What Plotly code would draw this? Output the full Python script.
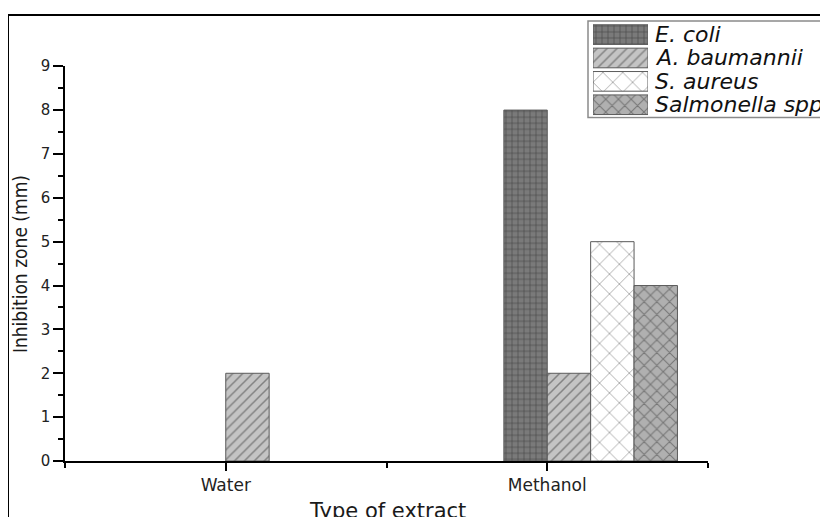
import plotly.graph_objects as go

# ---- data ----
categories = ["Water", "Methanol"]
series_names = ["E. coli", "A. baumannii", "S. aureus", "Salmonella spp."]
e_coli = [0, 8]
a_baumannii = [2, 2]
s_aureus = [0, 5]
salmonella = [0, 4]
series_values = [e_coli, a_baumannii, s_aureus, salmonella]
y_ticks = [0, 1, 2, 3, 4, 5, 6, 7, 8, 9]

# ---- layout geometry (target screen pixels; page body has an 8px margin) ----
W, H = 828, 517
OFF = 8
X0, X1 = 65, 708      # plot area left / right on screen
Y0, Y1 = 461, 60      # y=0 and y=9 on screen
ML = X0 - OFF
MT = 2
MB = H - (Y0 - OFF)
MR = 0
PW, PH = W - ML - MR, H - MT - MB


def px(x):
    return (x - OFF - ML) / PW


def py(y):
    return (H - MB - (y - OFF)) / PH


styles = [
    dict(bg="#7a7a7a", fg="#262626", shape="+", size=6, sol=0.25),
    dict(bg="#c4c4c4", fg="#404040", shape="/", size=7, sol=0.22),
    dict(bg="#ffffff", fg="#4a4a4a", shape="x", size=14, sol=0.12),
    dict(bg="#b0b0b0", fg="#3c3c3c", shape="x", size=9, sol=0.22),
]
bar_w = 0.135
offsets = [-bar_w, 0, bar_w, 2 * bar_w]
font_main = "DejaVu Sans, Liberation Sans, Arial, sans-serif"

fig = go.Figure()
xs = list(range(len(categories)))
for i, (name, vals) in enumerate(zip(series_names, series_values)):
    s = styles[i]
    pat = dict(shape=s["shape"], fgcolor=s["fg"], bgcolor=s["bg"],
               size=s["size"], solidity=s["sol"], fillmode="overlay")
    fig.add_trace(go.Bar(
        x=xs, y=[v if v else None for v in vals], name=name,
        width=bar_w, offset=offsets[i],
        marker=dict(color=s["bg"], line=dict(color="#5a5a5a", width=1), pattern=pat),
        showlegend=False, xaxis="x", yaxis="y",
    ))
    # legend swatch
    fig.add_trace(go.Bar(
        x=[1], y=[i], orientation="h", width=0.84, name=name,
        marker=dict(color=s["bg"], line=dict(color="#5a5a5a", width=1), pattern=pat),
        showlegend=False, xaxis="x2", yaxis="y2", hoverinfo="skip",
    ))

fig.update_layout(
    width=W, height=H,
    margin=dict(l=ML, r=MR, t=MT, b=MB, pad=0),
    plot_bgcolor="white", paper_bgcolor="white",
    barmode="overlay",
    font=dict(family=font_main, color="#222222"),
    xaxis=dict(
        domain=[0, px(X1)], range=[-0.5, 1.5],
        tickmode="array", tickvals=xs, ticktext=categories,
        ticks="outside", ticklen=8, tickwidth=1.5, tickcolor="black",
        minor=dict(tickmode="array", tickvals=[-0.5, 0.5, 1.5], ticks="outside",
                   ticklen=5, tickwidth=1.5, tickcolor="black"),
        showline=True, linecolor="black", linewidth=1.5,
        showgrid=False, zeroline=False,
        tickfont=dict(size=17, color="#222222"),
        anchor="y", fixedrange=True,
    ),
    yaxis=dict(
        domain=[0, py(Y1)], range=[0, 9],
        tickmode="array", tickvals=y_ticks,
        ticks="outside", ticklen=10, tickwidth=1.5, tickcolor="black",
        minor=dict(dtick=0.5, ticks="outside", ticklen=5, tickwidth=1.5, tickcolor="black"),
        showline=True, linecolor="black", linewidth=1.5,
        showgrid=False, zeroline=False,
        tickfont=dict(size=15, color="#222222"),
        ticklabelstandoff=0,
        anchor="x", fixedrange=True,
    ),
    xaxis2=dict(domain=[px(593), px(648)], range=[0, 1], visible=False,
                anchor="y2", fixedrange=True),
    yaxis2=dict(domain=[py(111), py(16)], range=[3.5, -0.5], visible=False,
                anchor="x2", fixedrange=True),
    shapes=[
        # outer frame
        dict(type="rect", xref="paper", yref="paper",
             x0=px(8), x1=px(900), y0=py(600), y1=py(8),
             line=dict(color="black", width=2), fillcolor="rgba(0,0,0,0)", layer="below"),
        # legend box
        dict(type="rect", xref="paper", yref="paper",
             x0=px(588), x1=px(900), y0=py(112), y1=py(14),
             line=dict(color="#8a8a8a", width=1.5), fillcolor="rgba(0,0,0,0)", layer="below"),
    ],
    annotations=[
        dict(text="Inhibition zone (mm)", xref="paper", yref="paper",
             x=px(20), y=py(261), textangle=-90, showarrow=False,
             xanchor="center", yanchor="middle",
             font=dict(family="DejaVu Sans Condensed, DejaVu Sans, sans-serif",
                       size=19, color="#1a1a1a")),
        dict(text="Type of extract", xref="paper", yref="paper",
             x=px(387), y=py(512), showarrow=False,
             xanchor="center", yanchor="middle",
             font=dict(family=font_main, size=21, color="#1a1a1a")),
    ] + [
        dict(text="<i>%s</i>" % n, xref="paper", yref="y2", x=px(653), y=i,
             showarrow=False, xanchor="left", yanchor="middle",
             font=dict(family=font_main, size=22, color="#111111"))
        for i, n in enumerate(series_names)
    ],
)

fig.write_html("out.html")
